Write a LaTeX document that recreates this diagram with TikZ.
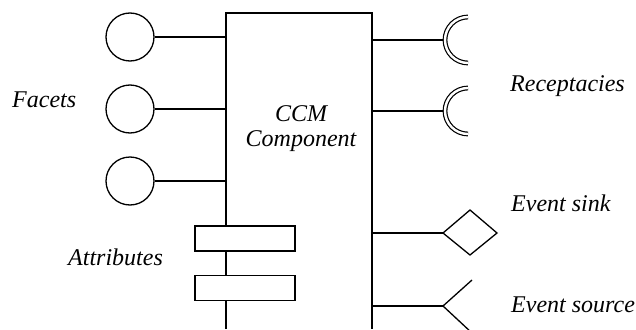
\documentclass[tikz,border=0pt]{standalone}
\usepackage{fontspec}
\setmainfont{Liberation Serif}
\usepackage{tikz}
\usetikzlibrary{positioning, calc}

\tikzset{
    wire/.style={line width=1.3pt},
    facet/.style={draw, circle, line width=1.3pt, minimum size=48pt, inner sep=0pt},
    attrbox/.style={draw, fill=white, line width=1.3pt, minimum width=100pt, minimum height=25pt, inner sep=0pt},
    lbl/.style={font=\fontsize{24}{25}\selectfont\itshape, inner sep=0pt, anchor=base west},
}

\begin{document}
\begin{tikzpicture}[x=1pt, y=-1pt]
    \useasboundingbox (0,0) rectangle (636,329);
    % component body, open at the bottom
    \coordinate (ctl) at (226,13);
    \coordinate (ctr) at (372,13);
    \draw[wire] (226,329) -- (ctl) -- (ctr) -- (372,329);
    \node[font=\fontsize{24}{25}\selectfont\itshape, align=center] (comp) at (301,129) {CCM\\Component};

    % facets
    \foreach \i/\y in {1/37, 2/109, 3/181} {
        \node[facet] (f\i) at (130,\y) {};
        \draw[wire] (f\i.east) -- (f\i.east -| ctl);
    }
    \node[lbl] (facets) at (12,107) {Facets};

    % attributes
    \node[attrbox] (a1) at (245,238.5) {};
    \node[attrbox] (a2) at (245,288) {};
    \node[lbl] (attrs) at (68,265) {Attributes};

    % receptacles
    \foreach \i/\y in {1/40, 2/111} {
        \coordinate (r\i) at (445,\y);
        \draw[wire] (r\i -| ctr) -- (r\i);
        \draw[line width=1.2pt, double, double distance=2.4pt] ($(r\i)+(23,23)$) arc (90:270:23);
    }
    \node[lbl] (recs) at (510,91) {Receptacies};

    % event sink
    \coordinate (snk) at (443,233);
    \draw[wire] (snk -| ctr) -- (snk);
    \draw[wire, line join=miter] (snk) -- ++(27,-23) -- ++(27,23) -- ++(-27,22) -- cycle;
    \node[lbl] (sinklbl) at (511,211) {Event sink};

    % event source
    \coordinate (src) at (443,306);
    \draw[wire] (src -| ctr) -- (src);
    \draw[wire] (472,280) -- (src) -- (472,333);
    \node[lbl] (srclbl) at (511,312) {Event source};
\end{tikzpicture}
\end{document}
